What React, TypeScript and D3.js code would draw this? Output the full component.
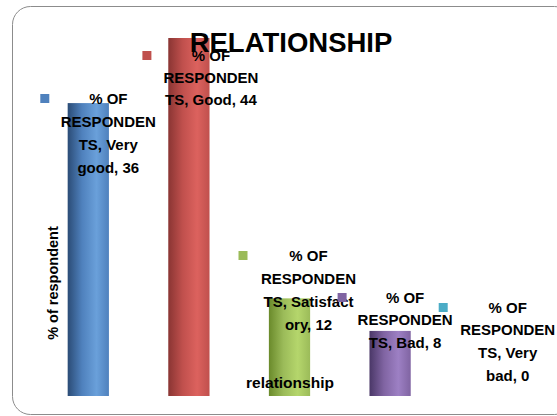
import React from "react";
import * as d3 from "d3";

const categories = ["Very good", "Good", "Satisfactory", "Bad", "Very bad"];
const values = [36, 44, 12, 8, 0];
const labelLines = [
  ["% OF", "RESPONDEN", "TS, Very", "good, 36"],
  ["% OF", "RESPONDEN", "TS, Good, 44"],
  ["% OF", "RESPONDEN", "TS, Satisfact", "ory, 12"],
  ["% OF", "RESPONDEN", "TS, Bad, 8"],
  ["% OF", "RESPONDEN", "TS, Very", "bad, 0"],
];
const colorsDark = ["#2b4c76", "#8a3533", "#6a8a2b", "#4a3767", "#2c8aa0"];
const colorsLight = ["#6aa0da", "#dc625e", "#b5d66c", "#9d80c4", "#5bc0d8"];
const colorsMid = ["#4f81bd", "#c0504d", "#9bbb59", "#8064a2", "#4bacc6"];
const title = "RELATIONSHIP";
const yTitle = "% of respondent";
const xTitle = "relationship";

// label placement offsets (relative to bar center)
const labelDx = [20, 22, 19, 15, 17];
const labelTopY = [98, 55, 255, 297, 307];
const keyDx = [-48, -48.5, -50, -47.5, -49];
const lineH = [23.3, 22, 23, 22.5, 22.7];

export default function App() {
  const W = 557;
  const H = 416;
  const x = d3
    .scaleBand<string>()
    .domain(categories)
    .range([38, 541])
    .paddingInner(0.59)
    .paddingOuter(0.295);
  const y = d3.scaleLinear().domain([0, 44]).range([396, 38]);
  const font = "'Liberation Sans', Arial, sans-serif";

  return (
    <svg
      width={W}
      height={H}
      style={{ position: "absolute", left: 0, top: 0 }}
      fontFamily={font}
    >
      <defs>
        {categories.map((c, i) => (
          <linearGradient key={c} id={`g${i}`} x1="0" x2="1" y1="0" y2="0">
            <stop offset="0" stopColor={colorsDark[i]} />
            <stop offset="0.35" stopColor={colorsMid[i]} />
            <stop offset="0.7" stopColor={colorsLight[i]} />
            <stop offset="1" stopColor={colorsMid[i]} />
          </linearGradient>
        ))}
      </defs>
      <rect width={W} height={H} fill="#ffffff" />
      <rect
        x={12.5}
        y={6.5}
        width={560}
        height={408}
        rx={18}
        fill="#ffffff"
        stroke="#8c8c8c"
        strokeWidth={1}
      />
      {categories.map((c, i) => {
        const bx = x(c) as number;
        const top = y(values[i]);
        return (
          <rect
            key={c}
            x={bx}
            y={top}
            width={x.bandwidth()}
            height={y(0) - top}
            fill={`url(#g${i})`}
          />
        );
      })}
      <text
        x={291}
        y={52}
        textAnchor="middle"
        fontSize={27.5}
        fontWeight="bold"
        fill="#000"
      >
        {title}
      </text>
      {categories.map((c, i) => {
        const cx = (x(c) as number) + x.bandwidth() / 2 + labelDx[i];
        return (
          <g key={c}>
            <rect
              x={cx + keyDx[i] - 20}
              y={labelTopY[i] - 4}
              width={9}
              height={9}
              fill={colorsMid[i]}
            />
            {labelLines[i].map((ln, j) => (
              <text
                key={j}
                x={cx}
                y={labelTopY[i] + j * lineH[i] + 5.5}
                textAnchor="middle"
                fontSize={15}
                fontWeight="bold"
                fill="#000"
              >
                {ln}
              </text>
            ))}
          </g>
        );
      })}
      <text
        transform="translate(58,283) rotate(-90)"
        textAnchor="middle"
        fontSize={14.5}
        fontWeight="bold"
        fill="#000"
      >
        {yTitle}
      </text>
      <text
        x={290}
        y={388}
        textAnchor="middle"
        fontSize={15.5}
        fontWeight="bold"
        fill="#000"
      >
        {xTitle}
      </text>
    </svg>
  );
}
